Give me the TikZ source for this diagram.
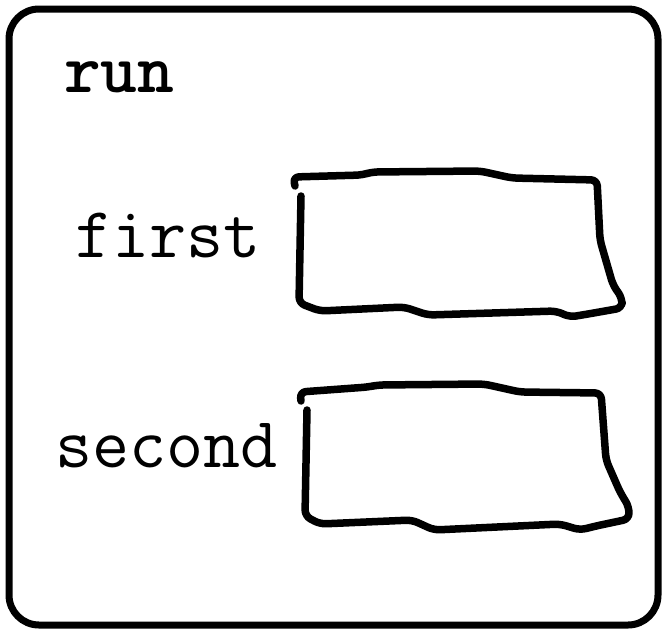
\documentclass[tikz,border=0pt]{standalone}
\usepackage{tikz}
\usetikzlibrary{positioning}

\begin{document}
\begin{tikzpicture}[x=1pt, y=-1pt,
    frame/.style={line width=7pt, rounded corners=30pt},
    scrawl/.style={line width=7.5pt, line cap=round, line join=round, rounded corners=6pt},
    varname/.style={inner sep=0pt, anchor=base west, font=\ttfamily\fontsize{72}{75}\selectfont}]
    \useasboundingbox (0,0) rectangle (666,632);

    % outer frame
    \draw[frame] (9,9) rectangle (658,625);
    \node[varname, font=\ttfamily\bfseries\fontsize{70}{72}\selectfont] (run) at (64,92) {run};

    % first box
    \node[varname] (first) at (75,257) {first};
    \draw[scrawl] (295,186) -- (293,177) -- (362,175) -- (372,172) -- (480,171) -- (512,178) -- (597,180)
        -- (600,240) -- (613,285) -- (622,298) -- (622,308) -- (588,314) -- (570,317) -- (556,311)
        -- (428,315) -- (404,307) -- (320,311) -- (299,303) -- (301,196);

    % second box
    \node[varname] (second) at (55,467) {second};
    \draw[scrawl] (301,401) -- (300,392) -- (368,387) -- (378,385) -- (484,384) -- (520,392) -- (601,393)
        -- (606,460) -- (620,492) -- (629,507) -- (629,519) -- (596,526) -- (580,530) -- (560,524)
        -- (434,530) -- (412,520) -- (320,524) -- (305,516) -- (307,410);
\end{tikzpicture}
\end{document}
